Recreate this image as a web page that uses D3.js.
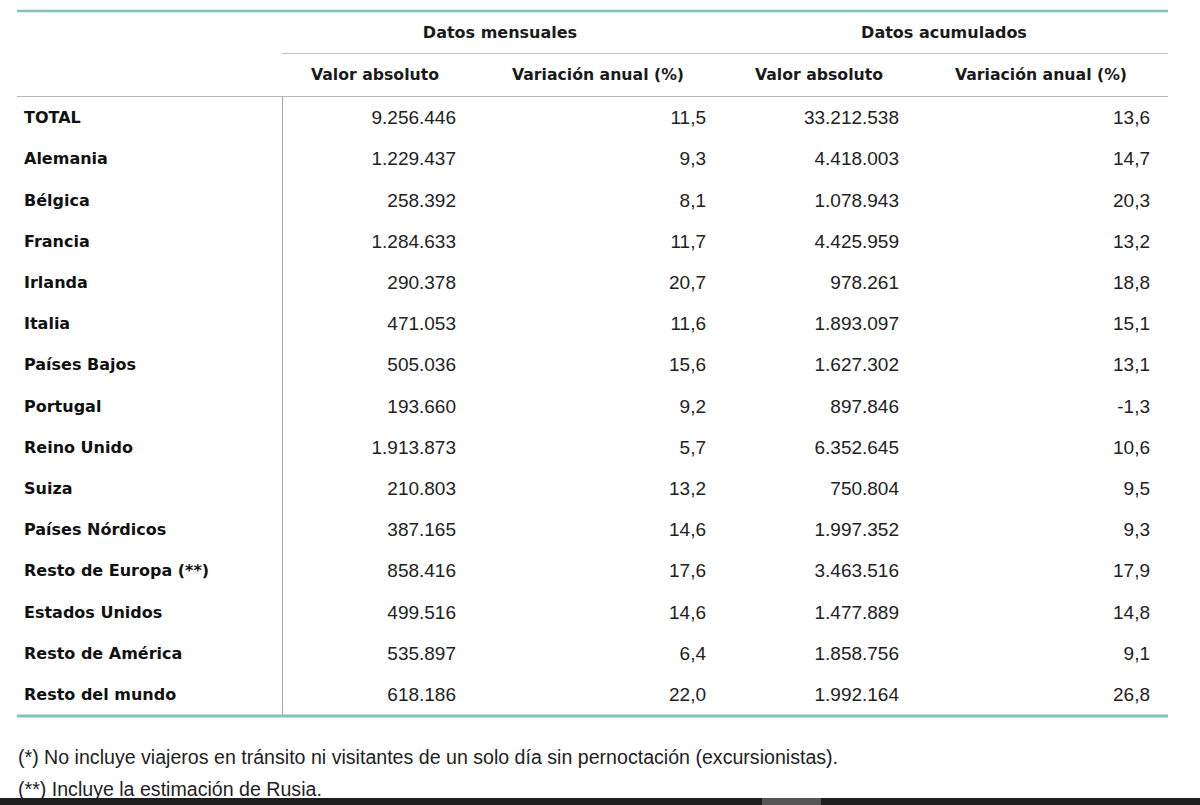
<!DOCTYPE html>
<html>
<head>
<meta charset="utf-8">
<script src="https://cdn.jsdelivr.net/npm/d3@7/dist/d3.min.js"></script>
<style>
html, body { margin: 0; padding: 0; background: #fff; }
svg { display: block; }
.head { font-family: "DejaVu Sans", Verdana, sans-serif; font-weight: bold; font-size: 16px; fill: #1a1a1a; }
.sub { font-size: 15.7px; }
.lab { font-family: "DejaVu Sans", Verdana, sans-serif; font-weight: bold; font-size: 16px; fill: #111; }
.num { font-family: "Liberation Sans", Arial, sans-serif; font-size: 19px; fill: #222; }
.note { font-family: "Liberation Sans", Arial, sans-serif; font-size: 19.6px; fill: #222; }
</style>
</head>
<body>
<div id="chart"></div>
<script>
// filas de la tabla
var paises = ["TOTAL", "Alemania", "Bélgica", "Francia", "Irlanda", "Italia", "Países Bajos",
  "Portugal", "Reino Unido", "Suiza", "Países Nórdicos", "Resto de Europa (**)",
  "Estados Unidos", "Resto de América", "Resto del mundo"];

var mensualAbs = ["9.256.446", "1.229.437", "258.392", "1.284.633", "290.378", "471.053", "505.036",
  "193.660", "1.913.873", "210.803", "387.165", "858.416", "499.516", "535.897", "618.186"];
var mensualVar = ["11,5", "9,3", "8,1", "11,7", "20,7", "11,6", "15,6",
  "9,2", "5,7", "13,2", "14,6", "17,6", "14,6", "6,4", "22,0"];
var acumAbs = ["33.212.538", "4.418.003", "1.078.943", "4.425.959", "978.261", "1.893.097", "1.627.302",
  "897.846", "6.352.645", "750.804", "1.997.352", "3.463.516", "1.477.889", "1.858.756", "1.992.164"];
var acumVar = ["13,6", "14,7", "20,3", "13,2", "18,8", "15,1", "13,1",
  "-1,3", "10,6", "9,5", "9,3", "17,9", "14,8", "9,1", "26,8"];

var grupos = ["Datos mensuales", "Datos acumulados"];
var subcabeceras = ["Valor absoluto", "Variación anual (%)", "Valor absoluto", "Variación anual (%)"];
var notas = [
  "(*) No incluye viajeros en tránsito ni visitantes de un solo día sin pernoctación (excursionistas).",
  "(**) Incluye la estimación de Rusia."
];

var width = 1200, height = 805;
var left = 17, right = 1168, split = 282;
var grpCenter = [500, 944];                   // centro de las cabeceras de grupo
var subCenter = [375, 598, 819, 1041];        // centro de las subcabeceras
var colRight = [456, 706, 899, 1150];         // alineación derecha de los números

var svg = d3.select("#chart").append("svg")
    .attr("width", width)
    .attr("height", height);

var y = d3.scaleBand()
    .domain(paises)
    .range([97, 715])
    .paddingInner(0);

// lineas
svg.append("line").attr("x1", left).attr("x2", right).attr("y1", 11).attr("y2", 11)
    .attr("stroke", "#80c4bd").attr("stroke-width", 2.5);
svg.append("line").attr("x1", split).attr("x2", right).attr("y1", 53.5).attr("y2", 53.5)
    .attr("stroke", "#c4c4c4").attr("stroke-width", 1.2);
svg.append("line").attr("x1", left).attr("x2", right).attr("y1", 96.5).attr("y2", 96.5)
    .attr("stroke", "#b8b8b8").attr("stroke-width", 1.2);
svg.append("line").attr("x1", split + 0.5).attr("x2", split + 0.5).attr("y1", 96).attr("y2", 716)
    .attr("stroke", "#a8a8a8").attr("stroke-width", 1);
svg.append("line").attr("x1", left).attr("x2", right).attr("y1", 716).attr("y2", 716)
    .attr("stroke", "#80c4bd").attr("stroke-width", 3);

// cabeceras
svg.selectAll("text.grp")
    .data(grupos)
    .enter().append("text")
    .attr("class", "head grp")
    .attr("x", function(d, i) { return grpCenter[i]; })
    .attr("y", 32)
    .attr("dy", "0.35em")
    .attr("text-anchor", "middle")
    .text(function(d) { return d; });

svg.selectAll("text.sub")
    .data(subcabeceras)
    .enter().append("text")
    .attr("class", "head sub")
    .attr("x", function(d, i) { return subCenter[i]; })
    .attr("y", 75)
    .attr("dy", "0.35em")
    .attr("text-anchor", "middle")
    .text(function(d) { return d; });

// filas
var cols = [mensualAbs, mensualVar, acumAbs, acumVar];
var rows = svg.selectAll("g.row")
    .data(paises)
    .enter().append("g")
    .attr("class", "row")
    .attr("transform", function(d) { return "translate(0," + (y(d) + y.bandwidth() / 2) + ")"; });

rows.append("text")
    .attr("class", "lab")
    .attr("x", 24)
    .attr("dy", "0.35em")
    .text(function(d) { return d; });

cols.forEach(function(col, c) {
    rows.append("text")
        .attr("class", "num")
        .attr("x", colRight[c])
        .attr("dy", "0.35em")
        .attr("text-anchor", "end")
        .text(function(d, i) { return col[i]; });
});

// notas
svg.selectAll("text.nt")
    .data(notas)
    .enter().append("text")
    .attr("class", "note nt")
    .attr("x", 18)
    .attr("y", function(d, i) { return 757 + i * 32; })
    .attr("dy", "0.35em")
    .text(function(d) { return d; });

// barra inferior
svg.append("rect").attr("x", 0).attr("y", 798).attr("width", width).attr("height", 7).attr("fill", "#1e1e1e");
svg.append("rect").attr("x", 762).attr("y", 798).attr("width", 59).attr("height", 7).attr("fill", "#555");
</script>
</body>
</html>
